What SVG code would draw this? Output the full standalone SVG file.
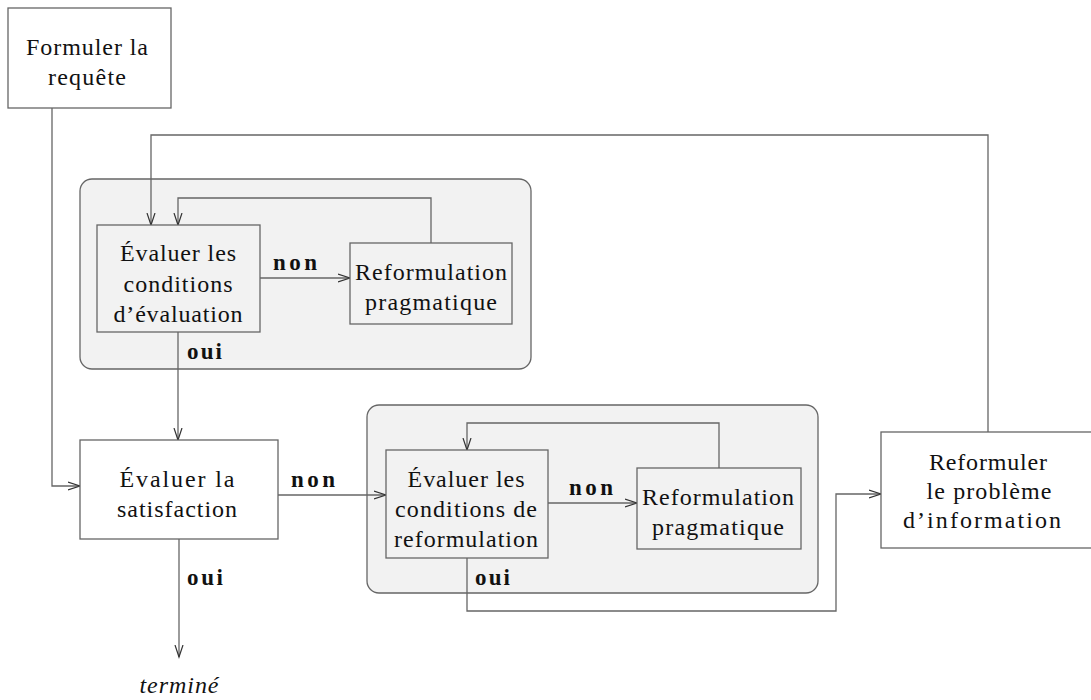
<svg xmlns="http://www.w3.org/2000/svg" width="1091" height="700" viewBox="0 0 1091 700">
  <style>
    .box { fill: #ffffff; stroke: #666666; stroke-width: 1.3; }
    .inner { fill: #f2f2f2; stroke: #666666; stroke-width: 1.3; }
    .group { fill: #f2f2f2; stroke: #666666; stroke-width: 1.3; }
    .t { font-family: "Liberation Serif", "DejaVu Serif", serif; font-size: 24px; fill: #111111; text-anchor: middle; }
    .lbl { font-family: "Liberation Serif", "DejaVu Serif", serif; font-size: 23px; font-weight: bold; fill: #111111; }
    .it { font-family: "Liberation Serif", "DejaVu Serif", serif; font-size: 24px; font-style: italic; fill: #111111; text-anchor: middle; }
    .c { fill: none; stroke: #666666; stroke-width: 1.3; }
  </style>
  <defs>
    <marker id="arr" markerUnits="userSpaceOnUse" markerWidth="14" markerHeight="12" refX="12" refY="5" orient="auto">
      <path d="M0,1 L12,5 L0,9" fill="none" stroke="#333333" stroke-width="1.2"/>
    </marker>
  </defs>

  <!-- shaded sub-process containers -->
  <g id="cadre-evaluation">
    <rect class="group" x="80" y="179" width="451" height="190" rx="12" ry="12"/>
  </g>
  <g id="cadre-reformulation">
    <rect class="group" x="367" y="405" width="451" height="188" rx="12" ry="12"/>
  </g>

  <!-- connectors -->
  <g id="connecteurs">
    <path class="c" d="M52,108 V486 H80" marker-end="url(#arr)"/>
    <path class="c" d="M278,495 H386" marker-end="url(#arr)"/>
    <path class="c" d="M179,539 V657" marker-end="url(#arr)"/>
    <path class="c" d="M178,332 V440" marker-end="url(#arr)"/>
    <path class="c" d="M260,278 H350" marker-end="url(#arr)"/>
    <path class="c" d="M431,243 V198 H178 V225" marker-end="url(#arr)"/>
    <path class="c" d="M988,432 V135 H151 V225" marker-end="url(#arr)"/>
    <path class="c" d="M548,503 H637" marker-end="url(#arr)"/>
    <path class="c" d="M719,468 V423 H467 V450" marker-end="url(#arr)"/>
    <path class="c" d="M467,558 V611 H836 V494 H881" marker-end="url(#arr)"/>

    <text class="lbl" x="273" y="270" textLength="44" lengthAdjust="spacing">non</text>
    <text class="lbl" x="187" y="359" textLength="35" lengthAdjust="spacing">oui</text>
    <text class="lbl" x="291" y="487" textLength="44" lengthAdjust="spacing">non</text>
    <text class="lbl" x="187" y="585" textLength="36" lengthAdjust="spacing">oui</text>
    <text class="lbl" x="569" y="495" textLength="44" lengthAdjust="spacing">non</text>
    <text class="lbl" x="475" y="585" textLength="35" lengthAdjust="spacing">oui</text>
  </g>

  <!-- nodes -->
  <g id="formuler-requete">
    <rect class="box" x="8" y="8" width="163" height="100"/>
    <text class="t" x="87" y="55" textLength="122" lengthAdjust="spacing">Formuler la</text>
    <text class="t" x="87" y="85" textLength="78" lengthAdjust="spacing">requête</text>
  </g>

  <g id="evaluer-conditions-evaluation">
    <rect class="inner" x="97" y="225" width="163" height="107"/>
    <text class="t" x="178" y="261" textLength="116" lengthAdjust="spacing">Évaluer les</text>
    <text class="t" x="178" y="292" textLength="109" lengthAdjust="spacing">conditions</text>
    <text class="t" x="178" y="322" textLength="129" lengthAdjust="spacing">d’évaluation</text>
  </g>

  <g id="reformulation-pragmatique-1">
    <rect class="inner" x="350" y="243" width="162" height="81"/>
    <text class="t" x="431" y="280" textLength="152" lengthAdjust="spacing">Reformulation</text>
    <text class="t" x="431" y="310" textLength="132" lengthAdjust="spacing">pragmatique</text>
  </g>

  <g id="evaluer-satisfaction">
    <rect class="box" x="80" y="440" width="198" height="99"/>
    <text class="t" x="177" y="487" textLength="115" lengthAdjust="spacing">Évaluer la</text>
    <text class="t" x="177" y="517" textLength="120" lengthAdjust="spacing">satisfaction</text>
  </g>

  <g id="evaluer-conditions-reformulation">
    <rect class="inner" x="386" y="450" width="162" height="108"/>
    <text class="t" x="466" y="487" textLength="117" lengthAdjust="spacing">Évaluer les</text>
    <text class="t" x="466" y="517" textLength="142" lengthAdjust="spacing">conditions de</text>
    <text class="t" x="466" y="547" textLength="144" lengthAdjust="spacing">reformulation</text>
  </g>

  <g id="reformulation-pragmatique-2">
    <rect class="inner" x="637" y="468" width="164" height="81"/>
    <text class="t" x="718" y="505" textLength="152" lengthAdjust="spacing">Reformulation</text>
    <text class="t" x="718" y="535" textLength="132" lengthAdjust="spacing">pragmatique</text>
  </g>

  <g id="reformuler-probleme">
    <rect class="box" x="881" y="432" width="215" height="116"/>
    <text class="t" x="988" y="470" textLength="118" lengthAdjust="spacing">Reformuler</text>
    <text class="t" x="989" y="499" textLength="125" lengthAdjust="spacing">le problème</text>
    <text class="t" x="982" y="528" textLength="158" lengthAdjust="spacing">d’information</text>
  </g>

  <g id="termine">
    <text class="it" x="179" y="693" textLength="79" lengthAdjust="spacing">terminé</text>
  </g>
</svg>
